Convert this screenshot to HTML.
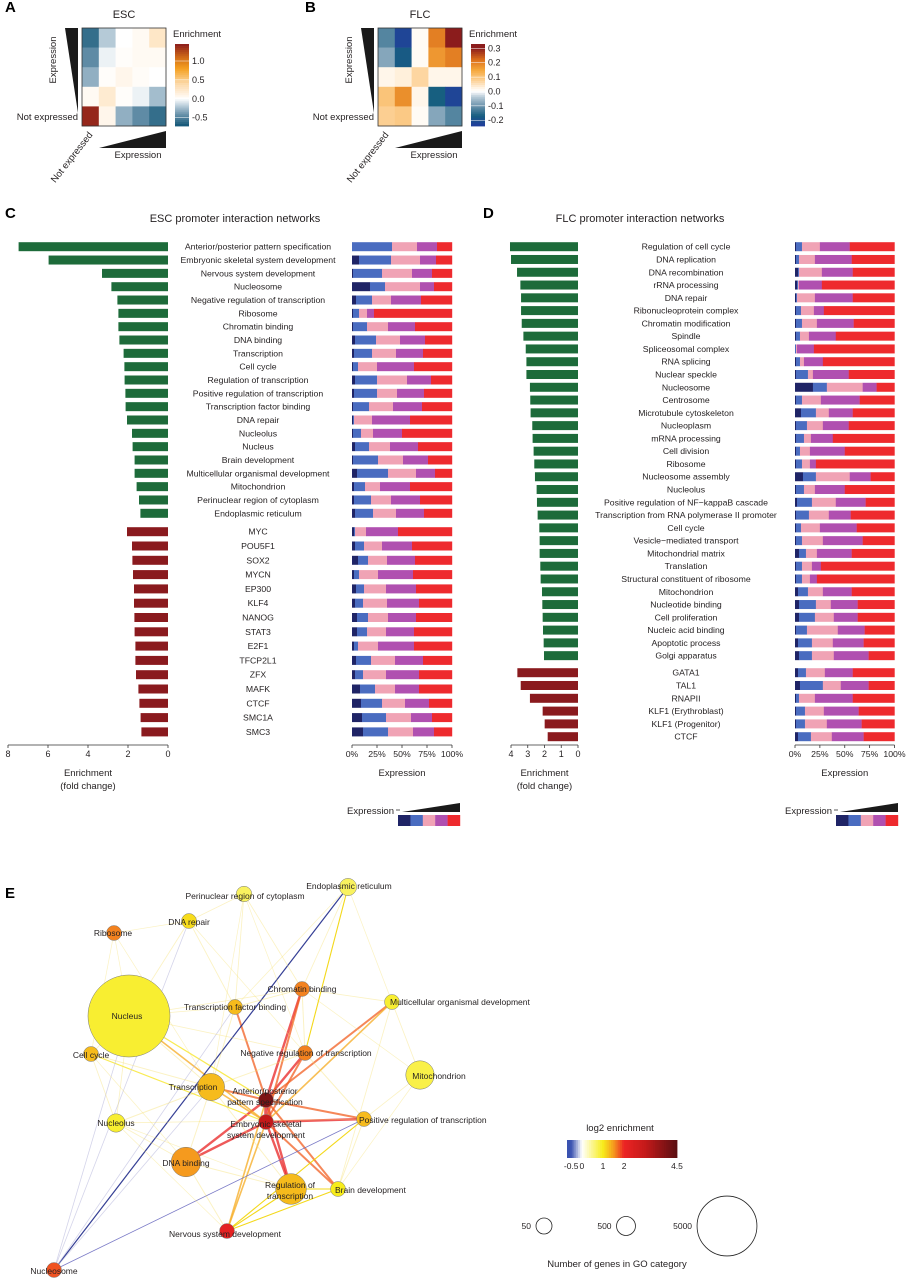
<!DOCTYPE html>
<html><head><meta charset="utf-8">
<style>
html,body{margin:0;padding:0;background:#fff;}
svg{display:block;font-family:"Liberation Sans",Arial,sans-serif;}
</style></head>
<body>
<svg id="fig" width="907" height="1280" viewBox="0 0 907 1280" xmlns="http://www.w3.org/2000/svg"></svg>
<script>
// ---------- DATA ----------
const escHeat = [[-0.6,-0.2,0.0,0.05,0.25],[-0.45,-0.05,0.02,0.05,0.05],[-0.3,0.02,0.08,0.03,0.0],[0.05,0.2,0.02,-0.05,-0.25],[1.4,0.08,-0.3,-0.45,-0.6]];
const flcHeat = [[-0.12,-0.22,0.01,0.2,0.3],[-0.08,-0.18,0.01,0.17,0.2],[0.02,0.03,0.07,0.02,0.02],[0.1,0.18,0.02,-0.17,-0.22],[0.08,0.09,0.01,-0.08,-0.12]];
const escTicks = [1.0,0.5,0.0,-0.5];
const flcTicks = [0.3,0.2,0.1,0.0,-0.1,-0.2];

const cGoLabels = ["Anterior/posterior pattern specification","Embryonic skeletal system development","Nervous system development","Nucleosome","Negative regulation of transcription","Ribosome","Chromatin binding","DNA binding","Transcription","Cell cycle","Regulation of transcription","Positive regulation of transcription","Transcription factor binding","DNA repair","Nucleolus","Nucleus","Brain development","Multicellular organismal development","Mitochondrion","Perinuclear region of cytoplasm","Endoplasmic reticulum"];
const cGoFold = [7.47,5.97,3.3,2.83,2.53,2.48,2.48,2.43,2.22,2.18,2.17,2.13,2.12,2.05,1.8,1.77,1.67,1.67,1.57,1.45,1.38];
const cGoExpr = [[0,40,25,20,15],[7,32,29,16,16],[1,29,30,20,20],[18,15,35,14,18],[4,16,19,30,31],[1,6,8,7,78],[1,14,21,27,37],[3,21,24,25,27],[2,18,24,27,29],[1,5,19,37,38],[3,22,30,24,21],[2,23,20,27,28],[1,16,24,29,30],[1,1,18,38,42],[1,8,12,29,50],[3,14,21,28,34],[1,25,25,25,24],[5,31,28,19,17],[2,11,15,30,42],[2,17,20,29,32],[3,18,23,28,28]];
const cTfLabels = ["MYC","POU5F1","SOX2","MYCN","EP300","KLF4","NANOG","STAT3","E2F1","TFCP2L1","ZFX","MAFK","CTCF","SMC1A","SMC3"];
const cTfFold = [2.05,1.8,1.78,1.75,1.7,1.7,1.68,1.67,1.63,1.63,1.6,1.48,1.43,1.37,1.33];
const cTfExpr = [[2,1,11,32,54],[3,9,18,30,40],[6,10,19,28,37],[2,5,19,35,39],[4,8,22,30,36],[3,8,24,32,33],[5,11,20,28,36],[5,10,19,28,38],[2,4,20,36,38],[4,15,24,28,29],[3,8,23,33,33],[8,15,20,24,33],[9,21,23,24,23],[10,24,25,21,20],[11,25,25,21,18]];
const cFoldTicks = [8,6,4,2,0];

const dGoLabels = ["Regulation of cell cycle","DNA replication","DNA recombination","rRNA processing","DNA repair","Ribonucleoprotein complex","Chromatin modification","Spindle","Spliceosomal complex","RNA splicing","Nuclear speckle","Nucleosome","Centrosome","Microtubule cytoskeleton","Nucleoplasm","mRNA processing","Cell division","Ribosome","Nucleosome assembly","Nucleolus","Positive regulation of NF\u2212kappaB cascade","Transcription from RNA polymerase II promoter","Cell cycle","Vesicle\u2212mediated transport","Mitochondrial matrix","Translation","Structural constituent of ribosome","Mitochondrion","Nucleotide binding","Cell proliferation","Nucleic acid binding","Apoptotic process","Golgi apparatus"];
const dGoFold = [4.06,4.0,3.64,3.44,3.4,3.4,3.36,3.26,3.12,3.08,3.08,2.87,2.85,2.83,2.73,2.71,2.65,2.61,2.57,2.47,2.45,2.41,2.31,2.29,2.29,2.25,2.23,2.15,2.13,2.11,2.09,2.05,2.03];
const dGoExpr = [[1,6,18,30,45],[1,3,16,37,43],[3,1,23,31,42],[2,1,1,23,73],[1,1,18,38,42],[1,5,13,10,71],[1,6,15,37,41],[1,4,9,27,59],[0,1,1,17,81],[1,4,4,19,72],[1,12,5,36,46],[18,14,36,14,18],[1,6,19,39,35],[6,15,13,24,42],[1,11,16,26,46],[1,8,7,22,62],[1,4,10,35,50],[1,6,8,6,79],[8,13,34,21,24],[1,8,11,30,50],[2,15,24,30,29],[1,13,20,22,44],[1,5,19,37,38],[1,6,21,40,32],[4,7,11,35,43],[1,6,10,9,74],[1,6,8,7,78],[3,10,15,29,43],[4,17,15,27,37],[4,16,19,24,37],[1,11,31,27,30],[3,14,21,31,31],[4,13,22,35,26]];
const dTfLabels = ["GATA1","TAL1","RNAPII","KLF1 (Erythroblast)","KLF1 (Progenitor)","CTCF"];
const dTfFold = [3.62,3.42,2.87,2.11,1.99,1.81];
const dTfExpr = [[3,8,19,28,42],[5,23,18,28,26],[1,3,16,38,42],[1,9,19,35,36],[1,9,22,35,33],[3,13,21,32,31]];
const dFoldTicks = [4,3,2,1,0];
const pctTicks = [0,25,50,75,100];

// network
const nodeNames = ["Nucleus","Perinuclear region of cytoplasm","Endoplasmic reticulum","DNA repair","Ribosome","Chromatin binding","Transcription factor binding","Multicellular organismal development","Negative regulation of transcription","Cell cycle","Mitochondrion","Transcription","Anterior/posterior pattern specification","Embryonic skeletal system development","Nucleolus","Positive regulation of transcription","DNA binding","Regulation of transcription","Brain development","Nervous system development","Nucleosome"];
const nodeGenes = [5000,180,220,120,120,150,120,140,150,110,600,550,70,70,250,140,650,700,100,110,90];
const nodeLog2 = [0.9,0.7,0.7,1.1,1.6,1.6,1.3,0.9,1.6,1.3,0.8,1.3,4.0,3.0,0.9,1.3,1.5,1.3,1.0,2.2,1.8];
const edgeList = [[12,13,4.5],[12,5,3],[12,8,3],[12,7,2.5],[12,11,2.5],[12,15,2.5],[12,16,3],[12,17,3],[12,18,2.5],[12,19,2],[12,6,2.5],[13,5,2.5],[13,8,2.5],[13,7,2],[13,15,3],[13,16,3],[13,17,3],[13,18,2.5],[13,19,2],[13,0,2],[13,9,1.5],[13,11,2],[12,0,1.5],[19,15,1.2],[19,18,1.2],[19,17,1.2],[2,8,1.1],[20,2,-1],[20,15,-0.5],[20,3,-0.2],[20,6,-0.15],[20,0,-0.15],[20,11,-0.2],[0,3,0.6],[0,6,0.6],[0,11,0.7],[0,14,0.6],[0,9,0.6],[0,4,0.5],[1,3,0.5],[1,6,0.6],[1,5,0.6],[2,5,0.6],[3,4,0.5],[3,6,0.6],[11,14,0.7],[11,16,0.7],[11,9,0.7],[14,9,0.6],[14,16,0.6],[10,7,0.6],[10,15,0.6],[10,5,0.5],[7,5,0.6],[8,15,0.7],[17,18,1.1],[16,17,0.7],[5,6,0.7],[5,8,0.7],[4,9,0.5],[1,8,0.5],[2,7,0.5],[6,11,0.7],[14,15,0.6],[15,18,0.7],[16,19,0.7],[0,8,0.6],[0,5,0.6],[11,8,0.7],[3,8,0.5],[14,17,0.5],[10,18,0.5],[7,18,0.6],[9,16,0.5],[11,17,0.7],[1,11,0.5],[4,11,0.5],[2,6,0.5],[14,19,0.5]];
const log2Ticks = [-0.5,0,1,2,4.5];
const sizeLegend = [50,500,5000];

// ---------- HELPERS ----------
const NS = "http://www.w3.org/2000/svg";
const svg = document.getElementById('fig');
function el(tag, attrs, parent){const e=document.createElementNS(NS,tag);for(const k in attrs)e.setAttribute(k,attrs[k]);(parent||svg).appendChild(e);return e;}
function txt(s,x,y,size,anchor,parent,extra){const t=el('text',Object.assign({x:x,y:y,'font-size':size,'text-anchor':anchor||'start',fill:'#231f20'},extra||{}),parent);t.textContent=s;return t;}
function hex(c){return [parseInt(c.slice(1,3),16),parseInt(c.slice(3,5),16),parseInt(c.slice(5,7),16)];}
function interp(stops,v){if(v<=stops[0][0])return stops[0][1];for(let i=1;i<stops.length;i++){if(v<=stops[i][0]){const a=stops[i-1],b=stops[i];const t=(v-a[0])/(b[0]-a[0]);const ca=hex(a[1]),cb=hex(b[1]);return 'rgb('+ca.map((x,j)=>Math.round(x+(cb[j]-x)*t)).join(',')+')';}}return stops[stops.length-1][1];}
const escStops=[[-0.7,'#175a7a'],[-0.4,'#6d95ad'],[-0.15,'#c7d7e2'],[0,'#ffffff'],[0.1,'#fff4e6'],[0.4,'#fcd9a8'],[0.8,'#f5a020'],[1.1,'#cf6a18'],[1.45,'#8b1c1c']];
const flcStops=[[-0.23,'#20409a'],[-0.17,'#175f80'],[-0.1,'#6d94ad'],[-0.04,'#b5c9d6'],[0,'#ffffff'],[0.02,'#fff6ea'],[0.08,'#fccf92'],[0.15,'#f5a73a'],[0.22,'#dc6f1a'],[0.3,'#8b1c1c']];
const segColors=['#1f2466','#4a6cc0','#f0a3b5','#b050b0','#ee2a2e'];

// ---------- PANEL LETTERS ----------
[['A',5,12],['B',305,12],['C',5,218],['D',483,218],['E',5,898]].forEach(p=>{
  const t=txt(p[0],p[1],p[2],15,'start',svg,{'font-weight':'bold',fill:'#000'});
  
  
});

// ---------- HEATMAPS ----------
function heatmap(name,title,data,stops,x0,ticks,tmin,tmax){
  const g=el('g',{});
  
  
  const y0=28,w=84,h=98,cw=w/5,ch=h/5;
  const tt=txt(title,x0+w/2,18,11,'middle',g);
  
  
  data.forEach((row,r)=>row.forEach((v,c)=>{
    const cell=el('rect',{x:x0+c*cw,y:y0+r*ch,width:cw+0.3,height:ch+0.3,fill:interp(stops,v)},g);
    
    
  }));
  el('rect',{x:x0,y:y0,width:w,height:h,fill:'none',stroke:'#333','stroke-width':0.8},g);
  // left triangle
  const lt=el('polygon',{points:(x0-17)+','+y0+' '+(x0-4)+','+y0+' '+(x0-4)+','+(y0+85),fill:'#1a1a1a'},g);
  
  
  const bt=el('polygon',{points:(x0+17)+','+(y0+120)+' '+(x0+w)+','+(y0+103)+' '+(x0+w)+','+(y0+120),fill:'#1a1a1a'},g);
  
  
  txt('Expression',x0+w-28,y0+130,9.5,'middle',g);
  const le=txt('Expression',0,0,9.5,'middle',g,{transform:'translate('+(x0-26)+','+(y0+32)+') rotate(-90)'});
  
  
  txt('Not expressed',x0-4,y0+92,9.5,'end',g);
  txt('Not expressed',0,0,9.5,'end',g,{transform:'translate('+(x0+11)+','+(y0+107)+') rotate(-52)'});
  // colorbar
  const bx=x0+93,by=44,bh=82,bw=14;
  txt('Enrichment',bx-2,y0+9,9.5,'start',g);
  const n=40;
  for(let i=0;i<n;i++){
    const v=tmax-(tmax-tmin)*(i+0.5)/n;
    const s=el('rect',{x:bx,y:by+bh*i/n,width:bw,height:bh/n+0.4,fill:interp(stops,v)},g);
    
    
  }
  ticks.forEach(t=>{
    const yy=by+bh*(tmax-t)/(tmax-tmin);
    el('line',{x1:bx,x2:bx+bw,y1:yy,y2:yy,stroke:'#fff','stroke-width':0.5},g);
    txt(t.toFixed(1),bx+bw+3,yy+3,9,'start',g);
  });
}
heatmap('esc','ESC',escHeat,escStops,82,escTicks,-0.72,1.45);
heatmap('flc','FLC',flcHeat,flcStops,378,flcTicks,-0.24,0.33);

// ---------- BAR PANELS ----------
function barPanel(name,title,titleX,cfg){
  const g=el('g',{});
  
  
  const t=txt(title,titleX,222,11,'middle',g);
  
  
  const xf=v=>cfg.right-v*cfg.unit;
  const xp=p=>cfg.sx+p/100*cfg.sw;
  function rows(labels,fold,expr,y0,step,color,kind){
    labels.forEach((lab,i)=>{
      const cy=y0+i*step;
      const b=el('rect',{x:xf(fold[i]),y:cy-4.5,width:fold[i]*cfg.unit,height:9,fill:color},g);
      
      
      const l=txt(lab,cfg.labelX,cy+3,8.7,'middle',g);
      
      
      let acc=0;const tot=expr[i].reduce((a,b)=>a+b,0);
      expr[i].forEach((v,k)=>{
        const s=el('rect',{x:xp(acc/tot*100),y:cy-4.5,width:v/tot*cfg.sw+0.2,height:9,fill:segColors[k]},g);
        
        
        acc+=v;
      });
    });
  }
  rows(cfg.goL,cfg.goF,cfg.goE,246.7,cfg.goStep,'#1d6b3a','go');
  rows(cfg.tfL,cfg.tfF,cfg.tfE,cfg.tfY0,cfg.tfStep,'#8a1a1e','tf');
  // fold axis
  const ay=745;
  const ax=el('g',{},g);
  
  
  el('line',{x1:xf(cfg.foldTicks[0]),x2:xf(0),y1:ay,y2:ay,stroke:'#333','stroke-width':0.8},ax);
  cfg.foldTicks.forEach(t=>{el('line',{x1:xf(t),x2:xf(t),y1:ay,y2:ay+3,stroke:'#333','stroke-width':0.8},ax);txt(String(t),xf(t),757,9,'middle',ax);});
  const mid=(xf(cfg.foldTicks[0])+xf(0))/2;
  txt('Enrichment',mid,776,9.5,'middle',ax);
  txt('(fold change)',mid,789,9.5,'middle',ax);
  const px=el('g',{},g);
  
  
  el('line',{x1:xp(0),x2:xp(100),y1:ay,y2:ay,stroke:'#333','stroke-width':0.8},px);
  pctTicks.forEach(t=>{el('line',{x1:xp(t),x2:xp(t),y1:ay,y2:ay+3,stroke:'#333','stroke-width':0.8},px);txt(t+'%',xp(t),757,8.7,'middle',px);});
  txt('Expression',xp(50),776,9.5,'middle',px);
  // legend
  const lg=el('g',{},g);
  
  
  txt('Expression',cfg.legX,814,9.5,'end',lg);
  el('line',{x1:cfg.legX+2,x2:cfg.legX+6,y1:810,y2:810,stroke:'#333','stroke-width':0.8},lg);
  el('polygon',{points:(cfg.legX+8)+',812 '+(cfg.legX+66)+',803 '+(cfg.legX+66)+',812',fill:'#1a1a1a'},lg);
  segColors.forEach((c,k)=>{el('rect',{x:cfg.legX+4+k*12.4,y:815,width:12.6,height:11,fill:c},lg);});
}
barPanel('esc-networks','ESC promoter interaction networks',235,{right:168,unit:20,labelX:258,sx:352,sw:100,goL:cGoLabels,goF:cGoFold,goE:cGoExpr,goStep:13.33,tfL:cTfLabels,tfF:cTfFold,tfE:cTfExpr,tfY0:531.7,tfStep:14.3,foldTicks:cFoldTicks,legX:394});
barPanel('flc-networks','FLC promoter interaction networks',640,{right:578,unit:16.75,labelX:686,sx:795,sw:99.5,goL:dGoLabels,goF:dGoFold,goE:dGoExpr,goStep:12.78,tfL:dTfLabels,tfF:dTfFold,tfE:dTfExpr,tfY0:672.7,tfStep:12.8,foldTicks:dFoldTicks,legX:832});

// ---------- NETWORK ----------
const nodePos=[[129,1016],[244,894],[348,887],[189,921],[114,933],[302,989],[235,1007],[392,1002],[305,1053],[91,1054],[420,1075],[211,1087],[266,1100],[266,1122],[116,1123],[364,1119],[186,1162],[291,1189],[338,1189],[227,1231],[54,1270]];
const labelPos=[[127,1019,'m'],[245,899,'m'],[349,889,'m'],[189,925,'m'],[113,936,'m'],[302,992,'m'],[235,1010,'m'],[390,1005,'s'],[306,1056,'m'],[91,1058,'m'],[439,1079,'m'],[193,1090,'m'],[265,1094,'m'],[266,1127,'m'],[116,1126,'m'],[359,1123,'s'],[186,1166,'m'],[290,1188,'m'],[335,1193,'s'],[225,1237,'m'],[54,1274,'m']];
const logStops=[[-0.5,'#3a52b0'],[0,'#ffffff'],[1,'#f7ec1a'],[1.5,'#f59a1e'],[2,'#ec2424'],[3,'#c41a1a'],[4.5,'#5a0f12']];
const rScale=g=>Math.sqrt(g)*0.58;
const net=el('g',{});


const eg=el('g',{},net);
edgeList.forEach(e=>{
  const a=nodePos[e[0]],b=nodePos[e[1]],w=e[2];
  let col,op,sw;
  if(w<0){col=w<-0.8?'#1f2a8a':(w<-0.3?'#6a6ac0':'#b8b8dc');op=w<-0.3?0.9:0.6;sw=w<-0.8?1.2:0.8;}
  else if(w>=1.5){col=interp(logStops,Math.min(w*0.7,2.2));op=0.75;sw=w*0.8;}
  else if(w>=1){col='#f2d400';op=0.9;sw=1.1;}
  else {col='#f5de6a';op=0.4;sw=w*1.4;}
  const ln=el('line',{x1:a[0],y1:a[1],x2:b[0],y2:b[1],stroke:col,'stroke-width':sw,'stroke-opacity':op},eg);
  
  
});
nodeNames.forEach((n,i)=>{
  const c=el('circle',{cx:nodePos[i][0],cy:nodePos[i][1],r:Math.max(7.5,rScale(nodeGenes[i])),fill:interp(logStops,nodeLog2[i]),stroke:'#777','stroke-width':0.5},net);
  
  
});
nodeNames.forEach((n,i)=>{
  const p=labelPos[i];const anc=p[2]==='s'?'start':'middle';
  let lines=[n];
  if(i===12)lines=['Anterior/posterior','pattern specification'];
  if(i===13)lines=['Embryonic skeletal','system development'];
  if(i===17)lines=['Regulation of','transcription'];
  lines.forEach((s,k)=>{
    const t=txt(s,p[0],p[1]+k*11,8.5,anc,net);
    
    
  });
});

// ---------- NETWORK LEGENDS ----------
const cl=el('g',{});


txt('log2 enrichment',620,1131,9.5,'middle',cl);
const lmin=-0.7,lmax=4.5,lx0=567,lw=110;
const lx=v=>lx0+(v-lmin)/(lmax-lmin)*lw;
for(let i=0;i<60;i++){
  const v=lmin+(lmax-lmin)*(i+0.5)/60;
  el('rect',{x:lx0+lw*i/60,y:1140,width:lw/60+0.4,height:18,fill:interp(logStops,v)},cl);
}
log2Ticks.forEach(t=>txt(String(t),lx(t),1169,8.5,'middle',cl));
const sl=el('g',{});


const sx=[544,626,727];
sizeLegend.forEach((s,i)=>{
  const r=Math.max(8,rScale(s)*0.73);
  el('circle',{cx:sx[i],cy:1226,r:r,fill:'none',stroke:'#222','stroke-width':0.8},sl);
  txt(String(s),sx[i]-r-5,1229,8.5,'end',sl);
});
txt('Number of genes in GO category',617,1267,9.5,'middle',sl);
</script>
</body></html>
